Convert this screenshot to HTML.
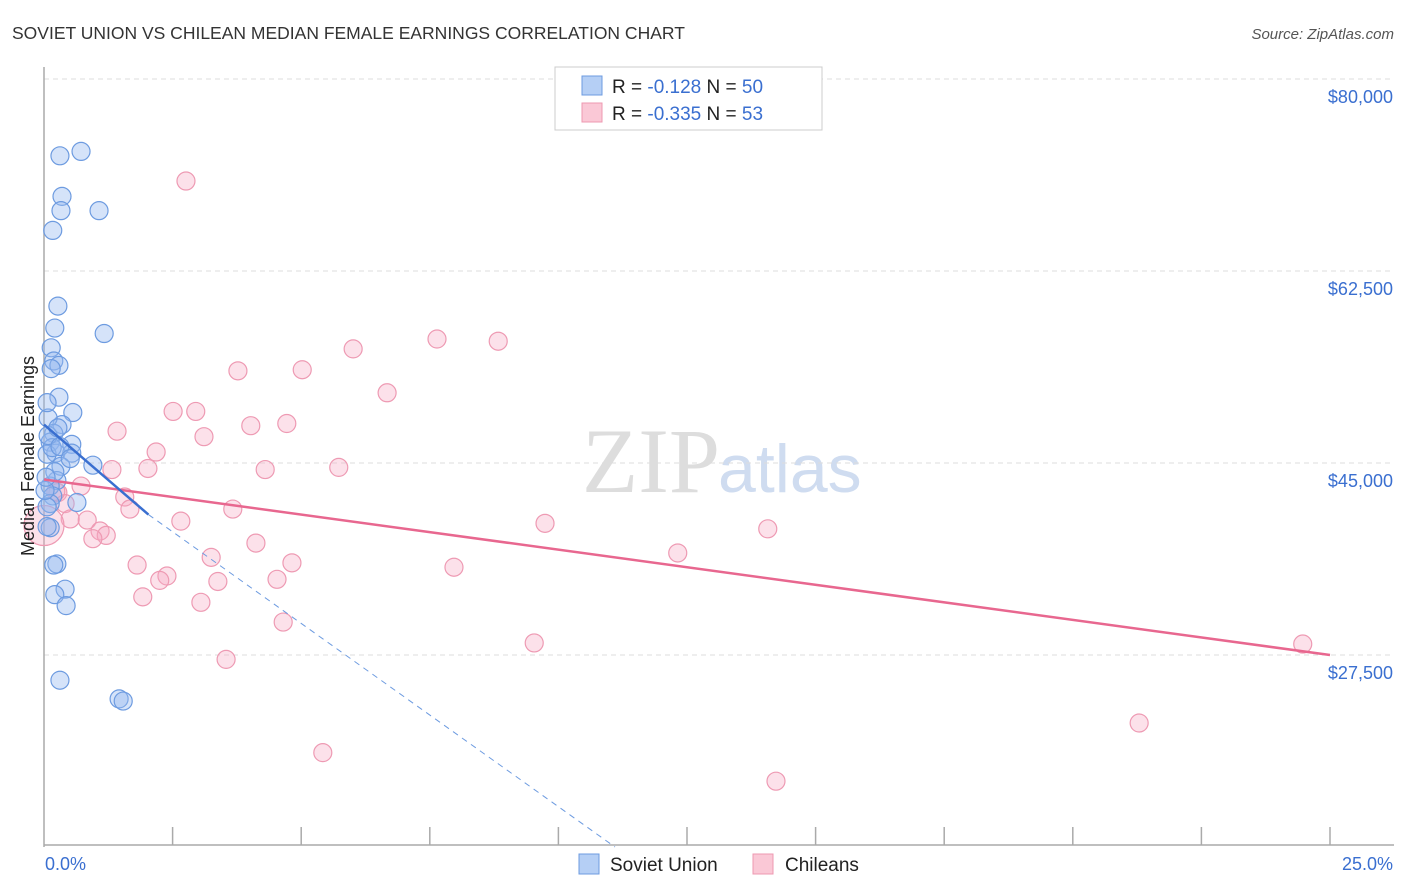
<!DOCTYPE html>
<html><head><meta charset="utf-8"><style>
body{margin:0;background:#fff;font-family:"Liberation Sans",sans-serif}
svg{display:block}
</style></head><body>
<svg id="chart" width="1406" height="892" viewBox="0 0 1406 892">
<text x="12" y="39" font-size="17.5" fill="#333">SOVIET UNION VS CHILEAN MEDIAN FEMALE EARNINGS CORRELATION CHART</text>
<text x="1394" y="39" font-size="15" fill="#555" font-style="italic" text-anchor="end">Source: ZipAtlas.com</text>
<text x="720" y="492" font-size="92" fill="#ddd" text-anchor="end" font-family="Liberation Serif,serif">ZIP</text>
<text x="718" y="492" font-size="68" fill="#cfdcf0">atlas</text>
<g id="grid"></g>
<g id="axes"></g>
<g id="pts"></g>
<g id="trend"></g>
<text transform="translate(34,456) rotate(-90)" font-size="18" fill="#222" text-anchor="middle">Median Female Earnings</text>
<g>
<rect x="555" y="67" width="267" height="63" fill="#fff" stroke="#ccc"/>
<rect x="582" y="76" width="20" height="19" fill="#b5cff5" stroke="#6d9be0"/>
<text x="612" y="93" font-size="19" fill="#222">R = <tspan fill="#3a6fd0">-0.128</tspan>   N = <tspan fill="#3a6fd0">50</tspan></text>
<rect x="582" y="103" width="20" height="19" fill="#fac8d6" stroke="#ee98b0"/>
<text x="612" y="120" font-size="19" fill="#222">R = <tspan fill="#3a6fd0">-0.335</tspan>   N = <tspan fill="#3a6fd0">53</tspan></text>
</g>
<g>
<rect x="579" y="854" width="20" height="20" fill="#b5cff5" stroke="#6d9be0"/>
<text x="610" y="871" font-size="19" fill="#222">Soviet Union</text>
<rect x="753" y="854" width="20" height="20" fill="#fac8d6" stroke="#ee98b0"/>
<text x="785" y="871" font-size="19" fill="#222">Chileans</text>
</g>
</svg>
<script>
const xTicks=[0,2.5,5,7.5,10,12.5,15,17.5,20,22.5,25];
const yTicks=[27500,45000,62500,80000];
const yTickLabels=["$27,500","$45,000","$62,500","$80,000"];
const sovietX=[0.72,0.31,0.35,0.33,1.07,0.17,0.27,0.21,1.17,0.14,0.19,0.29,0.14,0.29,0.56,0.35,0.08,0.19,0.12,0.54,0.23,0.06,0.54,0.33,0.95,0.25,0.12,0.17,0.12,0.64,0.06,0.12,0.25,0.19,0.41,0.21,0.43,0.31,1.46,1.54,0.06,0.16,0.08,0.31,0.02,0.21,0.04,0.51,0.27,0.06];
const sovietY=[73400,73000,69300,68000,68000,66200,59300,57300,56800,55500,54300,53900,53600,51000,49600,48500,49100,47700,46900,46700,45900,45800,45900,44700,44800,43400,42900,42000,41300,41400,41000,39100,35800,35700,33500,33000,32000,25200,23500,23300,39200,46400,47500,46500,42500,44200,43700,45400,48200,50500];
const chileX=[2.76,7.64,8.83,6.01,3.77,5.02,6.67,2.51,2.95,4.02,4.72,1.42,3.11,2.18,5.73,2.02,1.32,4.3,1.57,0.72,0.27,0.41,3.67,1.67,2.66,9.74,0.51,0.84,1.09,1.21,0.95,14.07,4.12,12.32,3.25,4.82,1.81,7.97,2.39,2.25,3.38,4.53,1.92,3.05,4.65,9.53,24.47,3.54,21.29,5.42,14.23,0.0,0.23];
const chileY=[70700,56300,56100,55400,53400,53500,51400,49700,49700,48400,48600,47900,47400,46000,44600,44500,44400,44400,41900,42900,42300,41300,40800,40800,39700,39500,39900,39800,38800,38400,38100,39000,37700,36800,36400,35900,35700,35500,34700,34300,34200,34400,32800,32300,30500,28600,28500,27100,21300,18600,16000,39300,42400];
const trendSoviet=[0,48500,2.03,40300];
const trendSovietEnd=[11.1,10000];
const trendChile=[0,43500,25,27500];
const X0=44,X1=1330,Y0=847,YT=79;
const xs=v=>X0+(v/25)*(X1-X0);
const ys=v=>YT+(80000-v)*(192/17500);
const NS="http://www.w3.org/2000/svg";
function mk(tag,parent,attrs){const e=document.createElementNS(NS,tag);for(const k in attrs)e.setAttribute(k,attrs[k]);parent.appendChild(e);return e;}
const grid=document.getElementById('grid'),axes=document.getElementById('axes'),pts=document.getElementById('pts'),trend=document.getElementById('trend');
yTicks.forEach((t,i)=>{
 const l=mk('line',grid,{x1:X0,x2:1394,y1:ys(t),y2:ys(t),stroke:'#ddd','stroke-dasharray':'5,4'});
 
 
 const tx=mk('text',axes,{x:1393,y:ys(t)+24,'font-size':18,fill:'#3a6fd0','text-anchor':'end'});
 tx.textContent=yTickLabels[i];
 
 
});
const ax=mk('line',axes,{x1:X0,x2:X0,y1:67,y2:Y0,stroke:'#aaa','stroke-width':1.5});


const bx=mk('line',axes,{x1:X0,x2:1394,y1:845,y2:845,stroke:'#aaa','stroke-width':1.5});


xTicks.forEach(t=>{
 if(t===0)return;
 const l=mk('line',axes,{x1:xs(t),x2:xs(t),y1:827,y2:845,stroke:'#aaa','stroke-width':1.5});
 
 
});
const xl0=mk('text',axes,{x:45,y:870,'font-size':18,fill:'#3a6fd0'});xl0.textContent=xTicks[0].toFixed(1)+'%';


const xl1=mk('text',axes,{x:1393,y:870,'font-size':18,fill:'#3a6fd0','text-anchor':'end'});xl1.textContent=xTicks[xTicks.length-1].toFixed(1)+'%';


chileX.forEach((v,i)=>{
 const r=(i===51)?20:9;
 const c=mk('circle',pts,{cx:xs(v),cy:ys(chileY[i]),r:r,fill:'rgba(246,170,195,0.35)',stroke:'#ee9ab3','stroke-width':1.2});
 
 
});
sovietX.forEach((v,i)=>{
 const c=mk('circle',pts,{cx:xs(v),cy:ys(sovietY[i]),r:9,fill:'rgba(150,185,240,0.4)',stroke:'#6d9be0','stroke-width':1.2});
 
 
});
const tc=mk('line',trend,{x1:xs(trendChile[0]),y1:ys(trendChile[1]),x2:xs(trendChile[2]),y2:ys(trendChile[3]),stroke:'#e8678f','stroke-width':2.5});


const ts=mk('line',trend,{x1:xs(trendSoviet[0]),y1:ys(trendSoviet[1]),x2:xs(trendSoviet[2]),y2:ys(trendSoviet[3]),stroke:'#3a6fd0','stroke-width':2.5});


const td=mk('line',trend,{x1:xs(trendSoviet[2]),y1:ys(trendSoviet[3]),x2:xs(trendSovietEnd[0]),y2:ys(trendSovietEnd[1]),stroke:'#6d9be0','stroke-width':1,'stroke-dasharray':'6,5'});


</script>
</body></html>
